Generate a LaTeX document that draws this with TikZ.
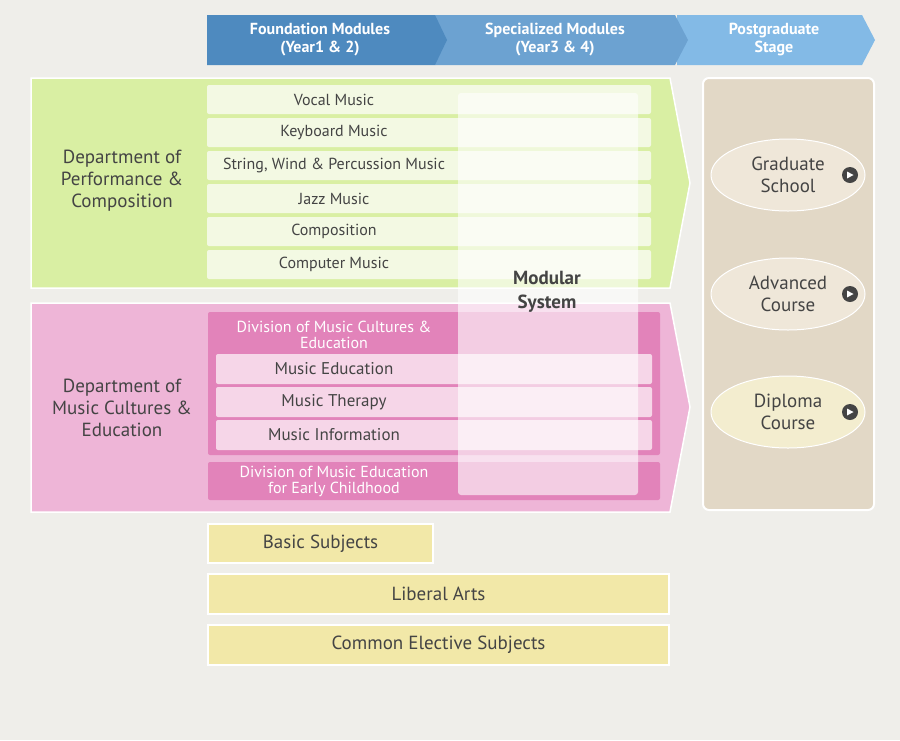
\documentclass[tikz,border=0pt]{standalone}
\usepackage{fontspec}
\setmainfont{PT Sans}
\usetikzlibrary{shapes.geometric}
\definecolor{bg}{HTML}{EFEEEA}
\definecolor{h1}{HTML}{4E8ABF}
\definecolor{h2}{HTML}{6CA2D1}
\definecolor{h3}{HTML}{83BAE6}
\definecolor{gp}{HTML}{D9EFA3}
\definecolor{gr}{HTML}{F3F9E3}
\definecolor{pp}{HTML}{EEB5D7}
\definecolor{pd}{HTML}{E283BA}
\definecolor{pr}{HTML}{F6D6E8}
\definecolor{tan}{HTML}{E2D8C6}
\definecolor{ell}{HTML}{EFE7D9}
\definecolor{ell3}{HTML}{F3EDCF}
\definecolor{yb}{HTML}{F2E8A8}
\definecolor{tx}{HTML}{444444}
\tikzset{
 hd/.style={text=white,font=\bfseries\fontsize{16}{18}\selectfont,align=center},
 row/.style={draw=none,text=tx,font=\fontsize{16}{16}\selectfont},
 dept/.style={text=tx,font=\fontsize{19}{22}\selectfont,align=center},
 div/.style={text=white,font=\fontsize{16}{16}\selectfont,align=center},
 ybox/.style={fill=yb,draw=white,line width=2pt,text=tx,font=\fontsize{19}{19}\selectfont},
 el/.style={ellipse,minimum width=154pt,minimum height=72pt,text=tx,font=\fontsize{19}{22}\selectfont,align=center,draw=white,line width=1pt},
 play/.style={circle,fill=tx,minimum size=16pt,inner sep=0pt}
}
\begin{document}
\begin{tikzpicture}[x=1pt,y=-1pt]
\fill[bg] (0,0) rectangle (900,740);
\useasboundingbox (0,0) rectangle (900,740);
% header
\fill[h3] (677,15) -- (862,15) -- (875,40) -- (862,65) -- (677,65) -- cycle;
\fill[h2] (435,15) -- (675,15) -- (688,40) -- (675,65) -- (435,65) -- cycle;
\fill[h1] (207,15) -- (435,15) -- (447,40) -- (435,65) -- (207,65) -- cycle;
\node[hd] (hA) at (320,40) {Foundation Modules\\(Year1 \& 2)};
\node[hd] (hB) at (555,40) {Specialized Modules\\(Year3 \& 4)};
\node[hd] (hC) at (774,40) {Postgraduate\\Stage};
% green panel
\filldraw[fill=gp,draw=white,line width=1.5pt] (31,78) -- (670,78) -- (690,183) -- (670,288) -- (31,288) -- cycle;
\node[dept] (d1) at (122,181) {Department of\\Performance \&\\Composition};
\foreach \t/\y [count=\i] in {Vocal Music/85,Keyboard Music/118,{String, Wind \& Percussion Music}/151,Jazz Music/184,Composition/217,Computer Music/250}{
 \fill[gr,rounded corners=2pt] (207,\y) rectangle (651,\y+29);
 \node[row] (g\i) at (334,\y+14.5) {\t};
}
% pink panel
\filldraw[fill=pp,draw=white,line width=1.5pt] (31,303) -- (670,303) -- (690,407) -- (670,512) -- (31,512) -- cycle;
\node[dept] (d2) at (122,408) {Department of\\Music Cultures \&\\Education};
\fill[pd,rounded corners=2pt] (208,312) rectangle (660,455);
\node[div] (dv1) at (334,335) {Division of Music Cultures \&\\Education};
\foreach \t/\y [count=\i] in {Music Education/354,Music Therapy/387,Music Information/420}{
 \fill[pr,rounded corners=2pt] (216,\y) rectangle (652,\y+30);
 \node[row,font=\fontsize{17}{17}\selectfont] (p\i) at (334,\y+15) {\t};
}
\fill[pd,rounded corners=2pt] (208,462) rectangle (660,500);
\node[div] (dv2) at (334,481) {Division of Music Education\\for Early Childhood};
% modular overlay
\fill[white,opacity=0.6,rounded corners=3pt] (458,93) rectangle (638,495);
\node[text=tx,font=\bfseries\fontsize{19}{24}\selectfont,align=center] (mod) at (547,292) {Modular\\System};
% right panel
\filldraw[fill=tan,draw=white,line width=2pt,rounded corners=6pt] (703,78) rectangle (874,510);
\node[el,fill=ell] (e1) at (788,175) {Graduate\\School};
\node[el,fill=ell] (e2) at (788,294) {Advanced\\Course};
\node[el,fill=ell3] (e3) at (788,412) {Diploma\\Course};
\foreach \i/\y in {1/175,2/294,3/412}{
 \node[play] (pl\i) at (850,\y) {};
 \fill[white] (847,\y-3.5) -- (853.5,\y) -- (847,\y+3.5) -- cycle;
}
% yellow boxes
\node[ybox,minimum width=225pt,minimum height=39pt] (b1) at (320.5,543.5) {Basic Subjects};
\node[ybox,minimum width=461pt,minimum height=40pt] (b2) at (438.5,594) {Liberal Arts};
\node[ybox,minimum width=461pt,minimum height=40pt] (b3) at (438.5,645) {Common Elective Subjects};
\end{tikzpicture}
\end{document}
